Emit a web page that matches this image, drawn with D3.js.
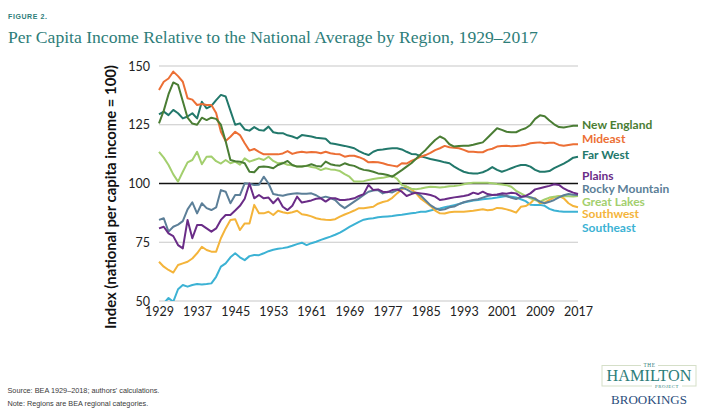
<!DOCTYPE html>
<html>
<head>
<meta charset="utf-8">
<script src="https://cdn.jsdelivr.net/npm/d3@7"></script>
<style>
  body { margin: 0; background: #fff; }
  svg { display: block; }
</style>
</head>
<body>
<svg id="chart" width="710" height="415"></svg>
<script>
// years 1929-2017
var years = d3.range(1929, 2018);

var newEngland = [125.6,131,138,143,142,135,128,125.5,125,128,127,128,127.5,125,118,110,109.5,109.3,108.6,105,104.8,107,107.2,107,106.5,107.9,108.6,109.6,107.9,107.2,107.2,107.5,108.2,107.5,107.2,109.3,108.2,107.8,107.6,108.6,107.9,107.5,106.5,105.8,105.5,105,104.3,104,103.6,102.9,104.3,105.7,107.2,108.6,110.5,112.5,114.3,116.5,118.5,120,119,116.7,115.7,116,116.1,116.1,116.5,117,117.5,119.5,121.5,123.5,122.8,122,121.8,121.8,122.8,123.5,124.9,127.5,129,128.6,126.8,125.2,124,123.8,124.2,124.6,124.6];
var mideast = [139.8,143.3,144.7,147.6,145.7,143.3,136.3,135.7,133.4,133.8,133.4,133.4,130,122,118.1,119.9,122,120.6,117.1,114,114.7,113.5,112.4,112.4,112.4,112.4,112.8,113.8,112.6,113.2,113.5,113.2,113.4,113.3,112.9,113.5,112.9,112.6,112.4,111.4,111.8,111.8,111.2,110.4,109,109.2,109,108.6,108,107.6,107.2,108.6,108.5,109.6,110.5,111.4,112.1,113,114.2,115,116,115.4,115.2,115,114.3,113.5,113.5,113.3,113.3,114.3,114.8,115.7,116,116.1,115.8,116,116.2,116.5,117.1,117.3,117.5,117.1,117.3,117.3,116.4,116.1,116.4,116.7,116.7];
var farWest = [129.4,130.6,129.1,131.3,129.9,127.7,128.5,129.9,127.7,134.8,132,133,135.5,137.7,137,131,125,125.6,123,122.5,124,122.8,122.5,124.2,121.8,121.4,121.4,120.5,120,119.2,120.6,120.3,120,119.5,119.3,119,117.1,116.8,116.4,116,115.5,115,113.8,112.8,112.1,113.5,114.3,114.5,114.8,115,115,114.5,113.5,112.6,112.4,111.6,111,110.4,110,109.6,109,108.6,107.2,106,105,104.5,104.3,104.3,104.8,105.7,107,105.8,105,105.7,106.5,107.3,107.9,107.9,107.2,105.8,105,105,105.3,106.5,107.5,108.5,109.6,111,111.4];
var plains = [80.9,81.6,78.8,77.6,73.8,72.4,84.5,76.7,82.3,82.3,80.9,79.5,80.9,84.5,86.6,86.6,88.5,90.5,93.5,100,93.7,95.1,93.7,94,91.6,93.7,90.1,88.7,90.5,94.4,91.9,92.3,92.8,93.5,93.7,92.3,93.7,93.7,93,93,93.3,93.7,94.7,95.5,99.4,97.2,97.5,96.5,96.3,97.2,97.5,96.5,94.7,95.5,96.1,95.8,95.5,95.1,94.4,93,93.3,93.7,94.1,94.4,94.7,95.1,96.1,95.5,96.5,95.5,95.1,95.3,95.8,95.6,96.1,95.8,94.4,94.7,95.8,97.5,98,98.5,99,99.7,99.4,97.9,96.9,96.1,95.5];
var rockyMountain = [84.5,85.2,79.5,81.6,82.5,84,89,92,87.3,91.6,89.5,88.7,89.8,97.2,96.5,91.6,95.1,95.1,100.1,99.9,99.4,99.5,102.9,100,95.5,95.1,94.8,95.3,95.6,95.8,95.6,95.6,95.8,95,93.8,94.4,93.8,93,90.9,89.5,90.9,92.3,93.7,95.1,96.5,97,97.2,95.8,96.5,96.2,97.2,98.2,97.5,96.3,96,94.8,92.8,90.8,89.5,88.7,89,89.9,90.2,91.2,92,92.6,93,93.3,94,94.7,95.1,95.1,95.1,94.7,93.9,93.4,94.2,94.6,94.2,93.5,92.3,91.6,92.2,93,94.1,95,95.5,95.2,95.1];
var greatLakes = [113.5,111,107.9,103.9,100.8,105,109,110,113.5,108.2,111.4,111.5,109.5,108.5,110,108.6,109.3,108,110.7,109.3,110,110.7,110,111.4,109.6,108.6,108.8,108,107.8,107.2,107.2,107.6,107,106.7,105.7,106.5,106,105.8,105.3,104,102.9,100.8,100.8,101,101.5,101.9,102.2,102.4,102.9,103.3,102,99.4,98.7,97.8,97.6,97.9,98.3,98.6,98.5,98.3,98.5,98.8,98.9,99.2,99.7,100.1,100.3,100.3,100.3,100.3,100.1,99.8,99.6,99.3,98.6,96.9,95.8,94.7,93.7,93,92.3,93.2,94,94.4,94.6,94.7,94.6,94.5,94.7];
var southwest = [66.7,64.6,63.2,62.1,65.3,66,66.7,68.1,70.3,73.1,71.7,71,71,76.7,80.9,84.5,84.8,80.2,83,83,90.9,87.3,87.3,88,86.6,88.4,87.8,87.3,87.8,88.4,86.9,86.6,86,85.2,84.8,84.6,84.5,84.8,85.9,86.8,87.6,88.5,89.5,89.5,89.8,90.1,91.4,92.1,92.6,93.9,95.8,97.5,98.7,97.5,95.8,93.5,92,90.5,88.5,87.3,87.2,87.8,88,88,88,88.2,88.4,88.7,89,88.6,88.8,89.6,89.5,89,88.4,87.6,90.1,90.4,91.6,93.7,91.6,91.9,93,94.1,94.7,93.7,91.6,90.4,89.9];
var southeast = [48,49,51.3,49.7,55,56.8,56.1,56.8,57.2,57,57.2,57.5,60.3,64.6,66,68.6,70.3,68.6,67.4,69.1,69.6,69.5,70.3,71.2,71.8,72.2,72.5,72.9,73.5,74.2,74.8,73.8,74.6,75.2,76,76.7,77.4,78.2,79.1,80.3,81.5,82.6,83.7,84.6,85,85.2,85.6,85.8,86,86.2,86.5,86.7,87,87.3,87.6,88,88,88.5,89,89.4,89.9,90.3,90.8,91.3,91.9,92.3,92.8,93,93.3,93.5,93.7,94,94.4,94.7,94.4,94.1,93.3,92.5,91,90.9,90.9,90.5,89.2,88.5,88.2,88,88,88,88];

var regionNames = ["New England", "Mideast", "Far West", "Plains", "Rocky Mountain", "Great Lakes", "Southwest", "Southeast"];
var regionValues = [newEngland, mideast, farWest, plains, rockyMountain, greatLakes, southwest, southeast];
var regionColors = ["#4a7d34", "#ec6f35", "#22786b", "#6a2c87", "#5c7f98", "#a3cf6e", "#f4b43a", "#3cb2d4"];

var yTicks = [50, 75, 100, 125, 150];
var xTicks = [1929, 1937, 1945, 1953, 1961, 1969, 1977, 1985, 1993, 2001, 2009, 2017];

// layout
var legendY = [125, 139, 155, 176, 189, 202, 214, 228];
var teal = "#2d7d79";
var labelFont = "Lato, 'Open Sans', sans-serif";

var svg = d3.select("#chart");

var x = d3.scaleLinear().domain([1929, 2017]).range([159, 578]);
var y = d3.scaleLinear().domain([50, 150]).range([301, 66]);

// helper: fit a text element to a width by font-size
function fitText(sel, width) {
  var node = sel.node();
  var fs = parseFloat(sel.attr("font-size"));
  var w = node.getComputedTextLength();
  sel.attr("font-size", (fs * width / w).toFixed(2));
}

// header
svg.append("text")
  .attr("x", 8).attr("y", 18.5)
  .attr("font-family", "'Liberation Sans', Arial, sans-serif")
  .attr("font-weight", "bold")
  .attr("font-size", 7)
  .attr("letter-spacing", 0.6)
  .attr("fill", teal)
  .text("FIGURE 2.");

var title = svg.append("text")
  .attr("x", 8).attr("y", 42.5)
  .attr("font-family", "'Liberation Serif', 'Times New Roman', serif")
  .attr("font-size", 18)
  .attr("fill", teal)
  .text("Per Capita Income Relative to the National Average by Region, 1929\u20132017");
fitText(title, 530);

// grid
svg.append("g")
  .selectAll("line")
  .data(yTicks)
  .join("line")
  .attr("x1", x(1929)).attr("x2", x(2017))
  .attr("y1", d => y(d)).attr("y2", d => y(d))
  .attr("stroke", d => d === 100 ? "#111" : "#c8c8c8")
  .attr("stroke-width", d => d === 100 ? 1.4 : 1.2);

// y axis labels
var yAxis = d3.axisLeft(y).tickValues(yTicks).tickSize(0).tickPadding(9);
svg.append("g")
  .attr("transform", "translate(" + x(1929) + ",0)")
  .call(yAxis)
  .call(g => g.select(".domain").remove())
  .selectAll("text")
  .attr("font-family", labelFont)
  .attr("font-size", 12.5)
  .attr("fill", "#222");

// x axis labels
var xAxis = d3.axisBottom(x).tickValues(xTicks).tickFormat(d3.format("d")).tickSize(0).tickPadding(6);
svg.append("g")
  .attr("transform", "translate(0," + y(50) + ")")
  .call(xAxis)
  .call(g => g.select(".domain").remove())
  .selectAll("text")
  .attr("font-family", labelFont)
  .attr("font-size", 12.5)
  .attr("fill", "#222");

// y axis title
var yTitle = svg.append("text")
  .attr("transform", "translate(116,197) rotate(-90)")
  .attr("text-anchor", "middle")
  .attr("font-family", labelFont)
  .attr("font-weight", "bold")
  .attr("font-size", 13)
  .attr("fill", "#111")
  .text("Index (national per capita income = 100)");
fitText(yTitle, 264);

// lines
svg.append("clipPath").attr("id", "plotClip")
  .append("rect")
  .attr("x", x(1929) - 2).attr("y", y(150) - 10)
  .attr("width", x(2017) - x(1929) + 4).attr("height", y(50) - y(150) + 10);

var line = d3.line()
  .x((d, i) => x(years[i]))
  .y(d => y(d));

var drawOrder = [7, 6, 5, 4, 3, 2, 1, 0];
svg.append("g")
  .attr("clip-path", "url(#plotClip)")
  .selectAll("path")
  .data(drawOrder)
  .join("path")
  .attr("d", k => line(regionValues[k]))
  .attr("fill", "none")
  .attr("stroke", k => regionColors[k])
  .attr("stroke-width", 2)
  .attr("stroke-linejoin", "round");

// legend labels
svg.append("g")
  .selectAll("text")
  .data(regionNames)
  .join("text")
  .attr("x", 582)
  .attr("y", (d, i) => legendY[i])
  .attr("dy", "0.36em")
  .attr("font-family", labelFont)
  .attr("font-weight", "bold")
  .attr("font-size", 12)
  .attr("fill", (d, i) => regionColors[i])
  .text(d => d);

// footer
var footer = ["Source: BEA 1929\u20132018; authors' calculations.", "Note: Regions are BEA regional categories."];
svg.append("g")
  .selectAll("text")
  .data(footer)
  .join("text")
  .attr("x", 7.5)
  .attr("y", (d, i) => 393 + i * 13)
  .attr("font-family", "'Liberation Sans', Arial, sans-serif")
  .attr("font-size", 7.3)
  .attr("fill", "#3a3a3a")
  .text(d => d);

// logo
var logo = svg.append("g");
logo.append("rect")
  .attr("x", 602).attr("y", 365.5)
  .attr("width", 94).attr("height", 20.5)
  .attr("fill", "none")
  .attr("stroke", "#d5dfc8")
  .attr("stroke-width", 1);
logo.append("rect").attr("x", 641).attr("y", 362).attr("width", 17).attr("height", 6).attr("fill", "#fff");
logo.append("rect").attr("x", 652).attr("y", 383).attr("width", 30).attr("height", 6).attr("fill", "#fff");
logo.append("text")
  .attr("x", 649.5).attr("y", 367)
  .attr("text-anchor", "middle")
  .attr("font-family", "'Liberation Serif', serif")
  .attr("font-size", 5.3)
  .attr("letter-spacing", 0.5)
  .attr("fill", teal)
  .text("THE");
var ham = logo.append("text")
  .attr("x", 649).attr("y", 381)
  .attr("text-anchor", "middle")
  .attr("font-family", "'Liberation Serif', serif")
  .attr("font-size", 16)
  .attr("fill", teal)
  .text("HAMILTON");
fitText(ham, 85);
logo.append("text")
  .attr("x", 667).attr("y", 388.3)
  .attr("text-anchor", "middle")
  .attr("font-family", "'Liberation Serif', serif")
  .attr("font-size", 4.8)
  .attr("letter-spacing", 0.5)
  .attr("fill", teal)
  .text("PROJECT");
var brk = logo.append("text")
  .attr("x", 649).attr("y", 404)
  .attr("text-anchor", "middle")
  .attr("font-family", "'Liberation Serif', serif")
  .attr("font-size", 13)
  .attr("fill", "#2b4d7c")
  .text("BROOKINGS");
fitText(brk, 76);
</script>
</body>
</html>
